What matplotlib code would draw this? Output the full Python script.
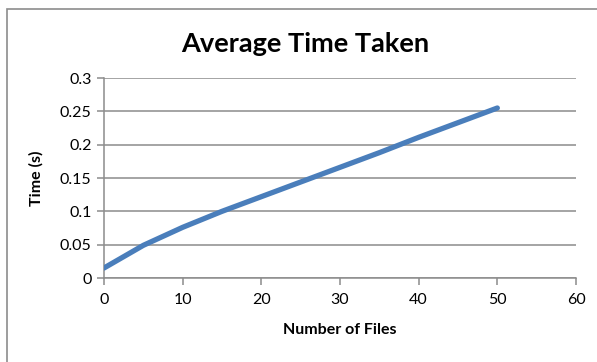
import matplotlib
matplotlib.use("Agg")
import matplotlib.pyplot as plt
from matplotlib.patches import Rectangle

# Average processing time per batch size
num_files = [0, 5, 10, 15, 20, 25, 30, 35, 40, 45, 50]
time_s = [0.015, 0.049, 0.076, 0.100, 0.122, 0.144, 0.166, 0.188, 0.211, 0.233, 0.255]

x_ticks = [0, 10, 20, 30, 40, 50, 60]
y_ticks = [0, 0.05, 0.1, 0.15, 0.2, 0.25, 0.3]
y_tick_labels = ["0", "0.05", "0.1", "0.15", "0.2", "0.25", "0.3"]

plt.rcParams["font.family"] = ["Lato", "DejaVu Sans"]

fig = plt.figure(figsize=(5.97, 3.62), dpi=100)
fig.patch.set_facecolor("white")

# chart frame
fig.patches.append(Rectangle((7 / 597, -0.2), 1.2, 0.2 + (1 - 9 / 362),
                             transform=fig.transFigure, fill=False,
                             edgecolor="#8c8c8c", linewidth=1.2))

ax = fig.add_axes([104 / 597, 1 - 278 / 362, 472 / 597, 200 / 362])
ax.plot(num_files, time_s, color="#4a7ebb", linewidth=3.8,
        solid_capstyle="round", solid_joinstyle="round", zorder=3)

ax.set_xlim(0, 60)
ax.set_ylim(0, 0.3)
ax.set_xticks(x_ticks)
ax.set_xticklabels([str(v) for v in x_ticks])
ax.set_yticks(y_ticks)
ax.set_yticklabels(y_tick_labels)

ax.grid(axis="y", color="#8c8c8c", linewidth=1.1)
ax.set_axisbelow(True)
for side in ("top", "right"):
    ax.spines[side].set_visible(False)
for side in ("left", "bottom"):
    ax.spines[side].set_color("#8c8c8c")
    ax.spines[side].set_linewidth(1.1)
ax.tick_params(axis="both", direction="out", length=5, width=1.1,
               color="#8c8c8c", labelsize=11.5, labelcolor="black")
ax.tick_params(axis="x", pad=6)
ax.tick_params(axis="y", pad=4)

ax.set_xlabel("Number of Files", fontsize=11.5, fontweight="bold", labelpad=11)
ax.set_ylabel("Time (s)", fontsize=11.5, fontweight="bold", labelpad=12)
fig.text(305 / 597, 1 - 44 / 362, "Average Time Taken", ha="center", va="center",
         fontsize=19.5, fontweight="bold")

fig.savefig("out.png", dpi=100)
